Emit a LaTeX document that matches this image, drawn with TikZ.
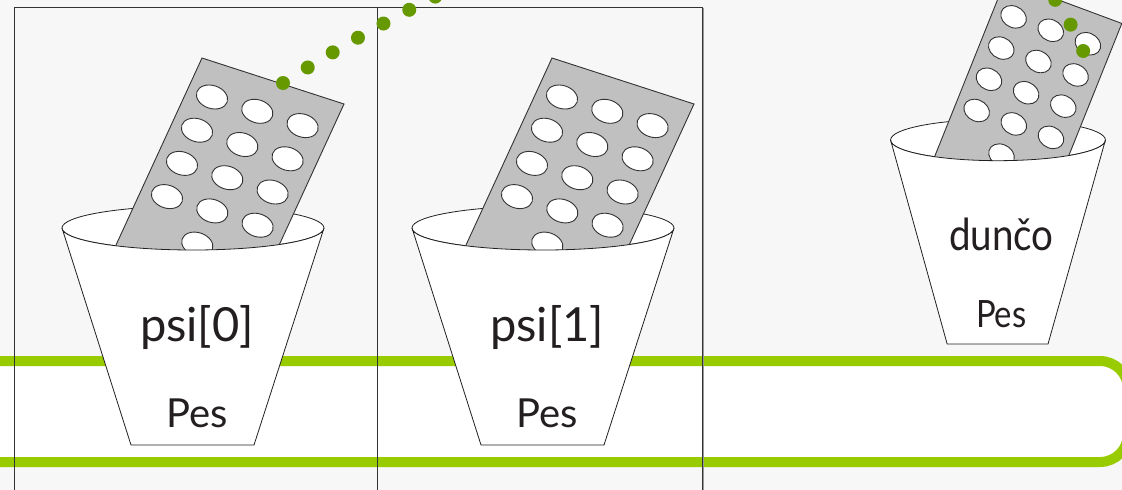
\documentclass[tikz,border=0pt]{standalone}
\usepackage{fontspec}
\setmainfont{Lato}
\usetikzlibrary{positioning}
\definecolor{Ink}{HTML}{231F20}
\definecolor{Paper}{HTML}{F7F7F7}
\definecolor{Lime}{HTML}{99CC00}
\definecolor{Olive}{HTML}{669900}
\definecolor{Foil}{HTML}{C0C0C0}
\definecolor{Edge}{HTML}{333333}
\tikzset{
    cupbody/.style={fill=white, draw=Ink, line width=0.8pt},
    blister/.style={fill=Foil, draw=Edge, line width=0.9pt},
    pill/.style={fill=white, draw=Edge, line width=0.9pt},
    frame/.style={draw=Edge, line width=0.9pt},
    band/.style={draw=Lime, fill=white, line width=10pt, rounded corners=28pt},
    dots/.style={draw=Olive, line width=14pt, line cap=round, dash pattern=on 0pt off 29.2pt},
    biglabel/.style={font=\fontsize{47}{47}\selectfont, text=Ink, inner sep=0pt},
    typelabel/.style={font=\fontsize{40}{40}\selectfont, text=Ink, inner sep=0pt},
    cup/.pic={
        % back rim
        \draw[cupbody] (0,0) ellipse [x radius=131, y radius=22];
        % blister with pills
        \draw[blister] (9,-170) -- (151,-124) -- (48,100) -- (-94,54) -- cycle;
        \foreach \r in {0,...,3}
            \foreach \c in {0,1,2}
                \draw[pill] ({19+45.3*\c-15*\r},{-131+14.3*\c+33.2*\r})
                    circle [x radius=16, y radius=11.5, rotate=-18];
        \draw[pill] ({19+45.3-15*4},{-131+14.3+33.2*4})
            circle [x radius=16, y radius=11.5, rotate=-18];
        % front of the cup
        \draw[cupbody] (-131,0) -- (-62,217) -- (61,217) -- (131,0)
            arc [start angle=0, end angle=180, x radius=131, y radius=22];
        \node[biglabel] (-name) at (4,100) {#1};
        \node[typelabel] (-type) at (4,185) {Pes};
    },
}

\begin{document}
\begin{tikzpicture}[x=1pt, y=-1pt]
    \clip (0,0) rectangle (1122,490);
    \fill[Paper] (0,0) rectangle (1122,490);

    % Band behind the cups
    \draw[band] (-40,361) rectangle (1128,462);

    % Frames
    \draw[frame] (14,7) rectangle (377,520);
    \draw[frame] (377,7) rectangle (702,520);
    \draw[gray!80, line width=1.4pt] (703.6,8) -- (703.6,520);

    % Cups
    \pic (c1) at (193,228) {cup={psi[0]}};
    \pic (c2) at (543,228) {cup={psi[1]}};
    \pic[xscale=0.82, yscale=0.94, transform shape] (c3) at (998,140) {cup={dunčo}};

    % Reference from psi[0] to dunco
    \coordinate (from) at (283,83);
    \coordinate (to) at (1084,53);
    \draw[dots] (from) .. controls (633,-141) and (985,-190) .. (to);
\end{tikzpicture}
\end{document}
